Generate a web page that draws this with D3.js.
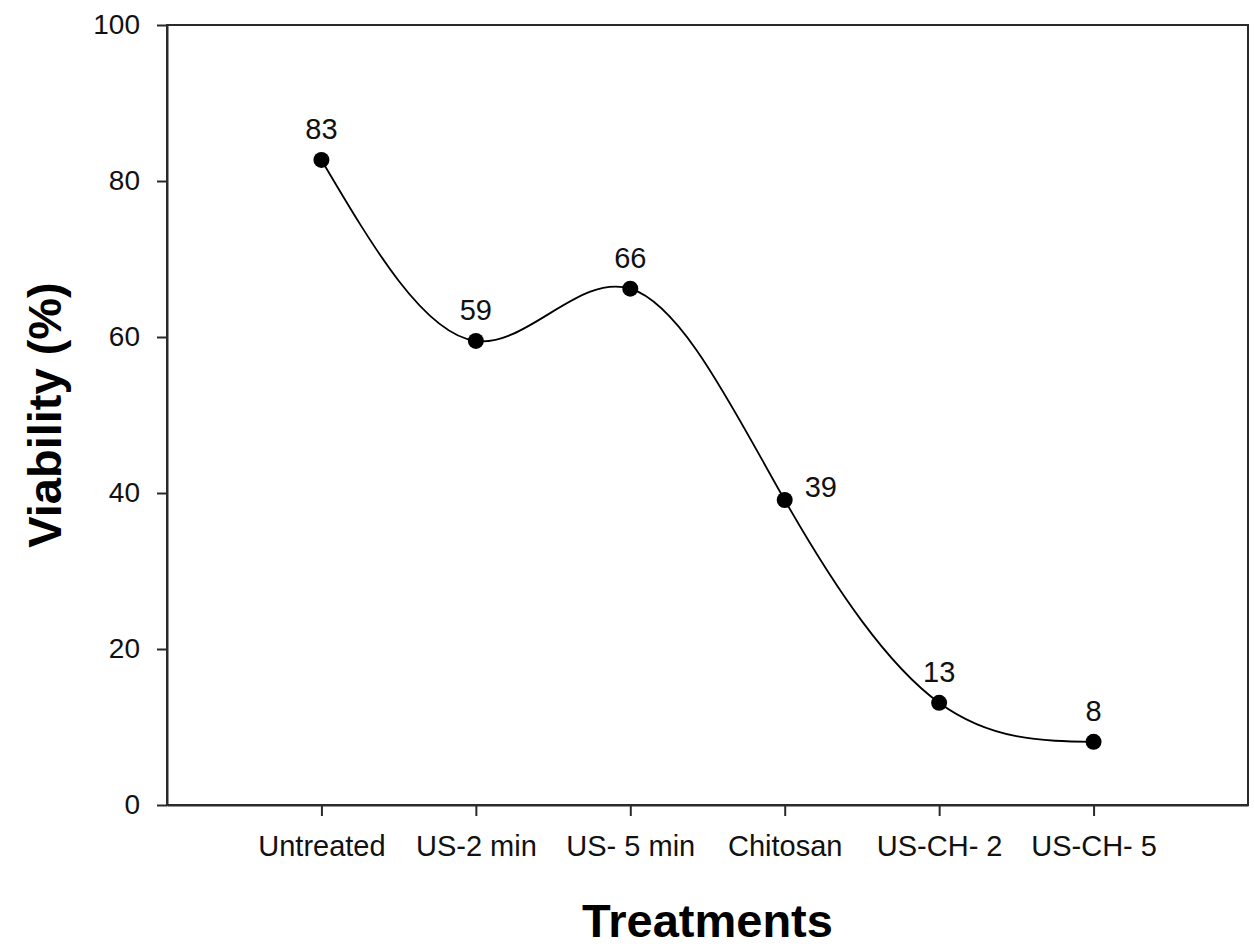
<!DOCTYPE html>
<html>
<head>
<meta charset="utf-8">
<script src="https://cdn.jsdelivr.net/npm/d3@7"></script>
<style>
  body { margin: 0; background: #fff; }
  svg { display: block; font-family: "Liberation Sans", Arial, sans-serif; }
</style>
</head>
<body>
<svg id="chart"></svg>
<script>
// Data
const treatments = ["Untreated", "US-2 min", "US- 5 min", "Chitosan", "US-CH- 2", "US-CH- 5"];
const viability = [82.7, 59.5, 66.2, 39.1, 13.1, 8.1];
const valueLabels = ["83", "59", "66", "39", "13", "8"];
const labelSide = ["top", "top", "top", "right", "top", "top"];
const yTicks = [0, 20, 40, 60, 80, 100];

const width = 1255;
const height = 949;
const margin = { top: 25, right: 7, bottom: 144, left: 167 };

const svg = d3.select("#chart")
    .attr("width", width)
    .attr("height", height);

const x = d3.scalePoint()
    .domain(treatments)
    .range([margin.left, width - margin.right])
    .padding(1);

const y = d3.scaleLinear()
    .domain([0, 100])
    .range([height - margin.bottom, margin.top]);

const axisColor = "#2a2a2a";

// Frame (top and right sides)
svg.append("rect")
    .attr("x", margin.left)
    .attr("y", margin.top)
    .attr("width", width - margin.right - margin.left)
    .attr("height", height - margin.bottom - margin.top)
    .attr("fill", "none")
    .attr("stroke", axisColor)
    .attr("stroke-width", 2);

// Y axis
const gy = svg.append("g")
    .attr("transform", `translate(${margin.left},0)`)
    .call(d3.axisLeft(y).tickValues(yTicks).tickSize(10).tickSizeOuter(0).tickPadding(17));

// X axis
const gx = svg.append("g")
    .attr("transform", `translate(0,${height - margin.bottom})`)
    .call(d3.axisBottom(x).tickSize(11).tickSizeOuter(0).tickPadding(19));

[gx, gy].forEach(g => {
    g.select(".domain").attr("stroke", axisColor).attr("stroke-width", 2);
    g.selectAll(".tick line").attr("stroke", axisColor).attr("stroke-width", 2);
    g.selectAll(".tick text").attr("fill", "#111").attr("font-family", "Liberation Sans, Arial, sans-serif");
});
gy.selectAll(".tick text").attr("font-size", 28);
gx.selectAll(".tick text").attr("font-size", 29);

// Curve
const line = d3.line()
    .x((d, i) => x(treatments[i]))
    .y(d => y(d))
    .curve(d3.curveNatural);

svg.append("path")
    .datum(viability)
    .attr("fill", "none")
    .attr("stroke", "#000")
    .attr("stroke-width", 1.8)
    .attr("d", line);

// Markers
svg.append("g")
    .selectAll("circle")
    .data(viability)
    .join("circle")
    .attr("cx", (d, i) => x(treatments[i]))
    .attr("cy", d => y(d))
    .attr("r", 8)
    .attr("fill", "#000");

// Value labels
svg.append("g")
    .selectAll("text")
    .data(viability)
    .join("text")
    .attr("x", (d, i) => x(treatments[i]) + (labelSide[i] === "right" ? 20 : 0))
    .attr("y", (d, i) => y(d) + (labelSide[i] === "right" ? -3 : -21))
    .attr("text-anchor", (d, i) => labelSide[i] === "right" ? "start" : "middle")
    .attr("font-size", 29)
    .attr("fill", "#111")
    .text((d, i) => valueLabels[i]);

// Axis titles
svg.append("text")
    .attr("x", (margin.left + width - margin.right) / 2)
    .attr("y", 937)
    .attr("text-anchor", "middle")
    .attr("font-size", 47)
    .attr("font-weight", "bold")
    .attr("fill", "#000")
    .text("Treatments");

svg.append("text")
    .attr("transform", `translate(61,${(margin.top + height - margin.bottom) / 2}) rotate(-90)`)
    .attr("text-anchor", "middle")
    .attr("font-size", 47)
    .attr("font-weight", "bold")
    .attr("fill", "#000")
    .text("Viability (%)");
</script>
</body>
</html>
